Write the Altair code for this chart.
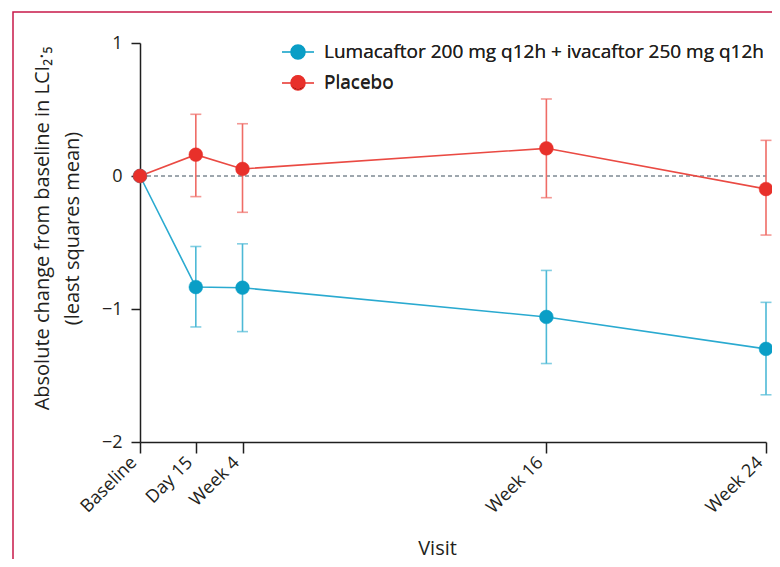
import altair as alt
import pandas as pd

# Visits and their horizontal positions (in weeks)
visits = ["Baseline", "Day 15", "Week 4", "Week 16", "Week 24"]
visit_pos = [0, 2.14, 3.93, 15.58, 24]

lum_mean = [0, -0.835, -0.84, -1.06, -1.30]
lum_lo = [None, -1.135, -1.17, -1.41, -1.645]
lum_hi = [None, -0.53, -0.51, -0.71, -0.95]

pla_mean = [0, 0.16, 0.053, 0.208, -0.098]
pla_lo = [None, -0.155, -0.273, -0.163, -0.444]
pla_hi = [None, 0.464, 0.393, 0.579, 0.268]

series = ["Lumacaftor 200 mg q12h + ivacaftor 250 mg q12h", "Placebo"]
point_colors = ["#0a9ec6", "#e8302a"]
line_colors = ["#2aaad0", "#ea4a43"]
bar_colors = ["#4db9d6", "#ef6c66"]

rows = []
for s, m, lo, hi in [(series[0], lum_mean, lum_lo, lum_hi), (series[1], pla_mean, pla_lo, pla_hi)]:
    for v, p, mm, l, h in zip(visits, visit_pos, m, lo, hi):
        rows.append({"series": s, "visit": v, "pos": p, "mean": mm, "lo": l, "hi": h})
df = pd.DataFrame(rows)
err = df.dropna()

FONT = "Open Sans"
TXT = "#231f20"

label_expr = (
    "datum.value == 0 ? 'Baseline' : datum.value == 2.14 ? 'Day 15' : "
    "datum.value == 3.93 ? 'Week 4' : datum.value == 15.58 ? 'Week 16' : 'Week 24'"
)

xscale = alt.Scale(domain=[0, 24], nice=False, zero=False)
yscale = alt.Scale(domain=[-2, 1], nice=False)

x_enc = alt.X(
    "pos:Q",
    scale=xscale,
    axis=alt.Axis(
        values=visit_pos,
        labelExpr=label_expr,
        title="Visit",
        labelAngle=-45,
        labelAlign="right",
        labelBaseline="bottom",
        labelPadding=13,
        labelOverlap=False,
        labelFlush=False,
        labelBound=False,
        tickSize=11,
        grid=False,
        titleX=297,
        titleY=112,
        titleBaseline="alphabetic",
        titleFontWeight="normal",
        titleFontSize=20,
    ),
)
y_enc = alt.Y(
    "mean:Q",
    scale=yscale,
    axis=alt.Axis(
        values=[-2, -1, 0, 1],
        format="d",
        title=["Absolute change from baseline in LCI₂·₅", "(least squares mean)"],
        tickSize=9,
        labelPadding=9,
        grid=False,
        titleX=-92,
        titleY=185,
        titleAngle=-90,
        titleAlign="center",
        titleBaseline="alphabetic",
        titleFontWeight="normal",
        titleFontSize=20,
        titleLineHeight=30,
    ),
)

legend_symbol = "M-1,0L1,0M0.44,0A0.44,0.44,0,1,1,-0.44,0A0.44,0.44,0,1,1,0.44,0Z"

color_lines = alt.Color(
    "series:N",
    scale=alt.Scale(domain=series, range=line_colors),
    legend=None,
)
the_legend = alt.Legend(
    title=None,
    orient="none",
    legendX=141,
    legendY=-8,
    symbolType=legend_symbol,
    symbolSize=1024,
    symbolStrokeWidth=1.5,
    labelFontSize=19,
    labelFont=FONT,
    labelColor=TXT,
    labelOffset=9,
    labelLimit=0,
    rowPadding=3,
)
color_points = alt.Color(
    "series:N",
    scale=alt.Scale(domain=series, range=point_colors),
    legend=the_legend,
)
stroke_points = alt.Stroke(
    "series:N",
    scale=alt.Scale(domain=series, range=point_colors),
    legend=the_legend,
)

border = alt.Chart(pd.DataFrame({"a": [0]})).mark_rect(
    fill=None, stroke="#c8194a", strokeWidth=1.5, clip=False
).encode(x=alt.value(-127), x2=alt.value(700), y=alt.value(-31), y2=alt.value(600))

zero = alt.Chart(pd.DataFrame({"z": [0]})).mark_rule(
    color="#3d4f5c", strokeDash=[4, 3], strokeWidth=1
).encode(y=alt.Y("z:Q", scale=yscale), x=alt.value(0), x2=alt.value(626))

base = alt.Chart(df)

lines = base.mark_line(strokeWidth=1.6).encode(x=x_enc, y=y_enc, color=color_lines)

bar_color = alt.Color("series:N", scale=alt.Scale(domain=series, range=bar_colors), legend=None)
bars = alt.Chart(err).mark_rule(strokeWidth=1.6).encode(
    x=alt.X("pos:Q", scale=xscale),
    y=alt.Y("lo:Q", scale=yscale),
    y2="hi:Q",
    color=bar_color,
)
caps_lo = alt.Chart(err).mark_tick(size=11, thickness=1.6, orient="horizontal").encode(
    x=alt.X("pos:Q", scale=xscale),
    y=alt.Y("lo:Q", scale=yscale),
    color=bar_color,
)
caps_hi = alt.Chart(err).mark_tick(size=11, thickness=1.6, orient="horizontal").encode(
    x=alt.X("pos:Q", scale=xscale),
    y=alt.Y("hi:Q", scale=yscale),
    color=bar_color,
)

points = base.mark_point(filled=True, size=190, opacity=1, strokeWidth=0.5).encode(
    x=alt.X("pos:Q", scale=xscale),
    y=alt.Y("mean:Q", scale=yscale),
    color=color_points,
    stroke=stroke_points,
)

chart = (
    alt.layer(border, zero, lines, bars, caps_lo, caps_hi, points)
    .resolve_scale(color="independent")
    .properties(
        width=626,
        height=399,
        autosize=alt.AutoSizeParams(type="none"),
        padding={"left": 132, "top": 35, "right": 6, "bottom": 117},
    )
    .configure_view(stroke=None)
    .configure_axis(
        domainColor="#1f1f1f",
        domainWidth=1.5,
        tickColor="#1f1f1f",
        tickWidth=1.5,
        labelFont=FONT,
        titleFont=FONT,
        labelFontSize=18,
        titleFontSize=19,
        labelColor=TXT,
        titleColor=TXT,
    )
)

chart.save("out.html", embed_options={"renderer": "svg", "actions": False})
